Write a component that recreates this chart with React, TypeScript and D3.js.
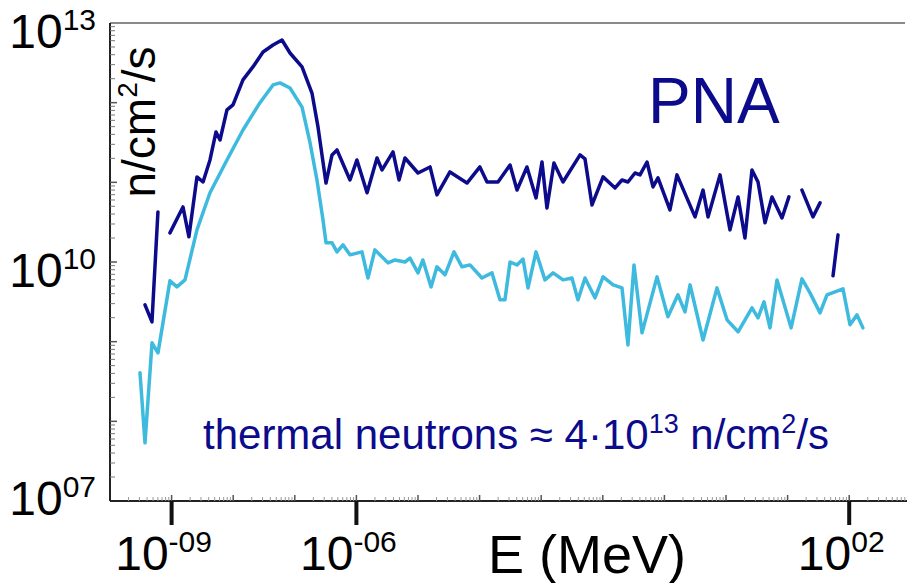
import React from "react";
import * as d3 from "d3";

// energy (MeV) and flux (n/cm2/s); null = gap in the curve
const darkEnergy = [
  3.7e-10, 4.8e-10, 6.0e-10, 7.5e-10,
  9.4e-10, 1.53e-9, 1.91e-9, 2.58e-9, 3.24e-9, 4.2e-9, 5.26e-9, 6.11e-9, 7.92e-9, 9.93e-9,
  1.44e-8, 2.09e-8, 3.05e-8, 4.43e-8, 6.19e-8, 8.36e-8, 1.31e-7, 1.9e-7, 2.38e-7, 3.21e-7,
  4.02e-7, 4.84e-7, 7.87e-7, 1.02e-6, 1.49e-6, 2.16e-6, 2.61e-6, 3.93e-6, 4.92e-6, 6.15e-6,
  1.0e-5, 1.57e-5, 2.03e-5, 3.3e-5, 6.24e-5, 1.01e-4, 1.32e-4, 1.99e-4, 3.12e-4, 4.05e-4,
  5.87e-4, 8.24e-4, 1.03e-3, 1.24e-3, 1.61e-3, 2.26e-3, 4.27e-3, 5.14e-3, 6.68e-3, 1.01e-2,
  1.58e-2, 2.05e-2, 2.56e-2, 3.33e-2, 4.02e-2, 5.22e-2, 6.53e-2, 7.87e-2, 0.123, 0.16,
  0.314, 0.424, 0.511, 0.8, 1.16, 1.57, 2.03, 2.64, 3.31, 4.3, 5.58, 8.11, 10.5,
  13,
  17.1, 25.8, 33.6,
  44,
  54.6, 65.8,
];
const darkFlux = [
  2.9e9, 1.77e9, 4.25e10, null,
  2.32e10, 4.91e10, 2.07e10, 1.17e11, 1.01e11, 1.91e11, 4.29e11, 3.4e11, 8.1e11, 9.4e11,
  1.93e12, 2.81e12, 4.33e12, 5.3e12, 6.12e12, 4.2e12, 2.81e12, 1.32e12, 4.96e11, 9.8e10,
  2.21e11, 2.55e11, 1.07e11, 1.91e11, 7.4e10, 2.02e11, 1.43e11, 2.41e11, 1.07e11, 2.02e11,
  1.31e11, 1.56e11, 6.95e10, 1.35e11, 9.8e10, 1.56e11, 1.01e11, 1.01e11, 1.65e11, 8.0e10,
  1.56e11, 6.37e10, 1.8e11, 4.77e10, 1.75e11, 1.01e11, 2.21e11, 1.97e11, 5.2e10, 1.17e11,
  8.5e10, 1.07e11, 1.01e11, 1.31e11, 1.24e11, 1.8e11, 8.75e10, 1.14e11, 4.5e10, 1.24e11,
  3.68e10, 8.0e10, 3.68e10, 1.24e11, 2.53e10, 6.56e10, 2.0e10, 1.43e11, 1.01e11, 3.1e10, 6.56e10, 3.57e10, 6.56e10,
  null,
  8.0e10, 3.68e10, 5.52e10,
  null,
  6.7e9, 2.19e10,
];

const lightEnergy = [
  3.07e-10, 3.7e-10, 4.81e-10, 6.01e-10, 9.4e-10, 1.22e-9, 1.65e-9, 2.58e-9, 4.2e-9, 7.92e-9,
  1.44e-8, 2.72e-8, 4.43e-8, 5.75e-8, 8.36e-8, 1.31e-7, 1.77e-7, 2.29e-7, 2.87e-7, 3.21e-7,
  4.02e-7, 4.84e-7, 6.05e-7, 7.87e-7, 1.23e-6, 1.54e-6, 2.0e-6, 3.26e-6, 4.24e-6, 6.15e-6,
  7.41e-6, 1.0e-5, 1.2e-5, 1.63e-5, 2.03e-5, 2.74e-5, 3.84e-5, 5.18e-5, 6.98e-5, 1.09e-4,
  1.59e-4, 2.14e-4, 2.58e-4, 3.12e-4, 4.05e-4, 5.07e-4, 6.11e-4, 8.24e-4, 1.15e-3, 1.56e-3,
  2.26e-3, 3.16e-3, 3.95e-3, 5.14e-3, 7.46e-3, 1.01e-2, 1.47e-2, 2.05e-2, 2.56e-2, 3.21e-2,
  4.33e-2, 7.59e-2, 0.114, 0.166, 0.216, 0.261, 0.424, 0.714, 1.04, 1.57,
  2.64, 3.31, 4.14, 5.18, 6.73, 11.4, 17.1, 23.1, 33.6, 43.6,
  58.8, 79.3, 103, 134, 167,
];
const lightFlux = [
  4.06e8, 5.37e7, 9.66e8, 7.24e8, 5.8e9, 4.87e9, 5.96e9, 2.53e10, 7.4e10, 1.91e11,
  4.54e11, 1.0e12, 1.67e12, 1.77e12, 1.53e12, 8.8e11, 3.12e11, 1.07e11, 3.37e10, 1.74e10,
  1.74e10, 1.34e10, 1.64e10, 1.23e10, 1.34e10, 6.3e9, 1.42e10, 9.75e9, 1.06e10, 1.0e10,
  1.12e10, 7.3e9, 1.06e10, 4.87e9, 8.7e9, 6.9e9, 1.34e10, 8.7e9, 9.2e9, 6.3e9,
  7.3e9, 3.35e9, 3.35e9, 1.0e10, 9.2e9, 1.09e10, 4.73e9, 1.34e10, 5.96e9, 7.3e9,
  5.96e9, 6.3e9, 3.35e9, 6.3e9, 3.55e9, 6.5e9, 5.16e9, 4.73e9, 9.1e8, 9.2e9,
  1.29e9, 6.5e9, 2.05e9, 3.87e9, 2.37e9, 5.16e9, 1.05e9, 4.73e9, 1.88e9, 1.33e9,
  2.66e9, 1.99e9, 3.16e9, 1.49e9, 5.96e9, 1.49e9, 6.14e9, 4.1e9, 2.3e9, 3.87e9,
  4.22e9, 4.6e9, 1.63e9, 2.17e9, 1.49e9,
];

const xTickValues = [1e-9, 1e-6, 1e2];
const xTickExp = ["-09", "-06", "02"];
const yTickValues = [1e13, 1e10, 1e7];
const yTickExp = ["13", "10", "07"];

const W = 907;
const H = 583;
const left = 110;
const top = 23;
const bottom = 501;

const font = "'Liberation Sans', Arial, sans-serif";
const navy = "#0b0b8c";
const cyan = "#3dbade";

export default function App() {
  const x = d3.scaleLog().domain([1e-10, 1e3]).range([left, left + 13 * 61.6]);
  const y = d3.scaleLog().domain([1e7, 1e13]).range([bottom, top]);

  const line = d3
    .line<[number, number | null]>()
    .defined((d) => d[1] != null)
    .x((d) => x(d[0]))
    .y((d) => y(d[1] as number));

  const dark = darkEnergy.map((e, i) => [e, darkFlux[i]] as [number, number | null]);
  const light = lightEnergy.map((e, i) => [e, lightFlux[i]] as [number, number | null]);

  const yMinor: number[] = [];
  for (let p = 7; p < 13; p++) for (let k = 2; k <= 9; k++) yMinor.push(k * 10 ** p);
  const xMinor: number[] = [];
  for (let p = -10; p < 3; p++) for (let k = 2; k <= 9; k++) xMinor.push(k * 10 ** p);
  const xDecades = d3.range(-9, 3).map((p) => 10 ** p);
  const yDecades = d3.range(8, 13).map((p) => 10 ** p);

  return (
    <svg width={W} height={H} style={{ position: "absolute", left: 0, top: 0, background: "#fff" }}>
      {/* frame */}
      <line x1={left} x2={905} y1={top} y2={top} stroke="#8a8a8a" strokeWidth={2} />
      <line x1={left} x2={left} y1={top} y2={bottom} stroke="#222" strokeWidth={2} />
      <line x1={left} x2={W} y1={bottom} y2={bottom} stroke="#222" strokeWidth={2} />

      {/* y minor ticks */}
      {yMinor.map((v, i) => (
        <line key={"ym" + i} x1={left} x2={left + 5} y1={y(v)} y2={y(v)} stroke="#777" strokeWidth={1} />
      ))}
      {yDecades.map((v, i) => (
        <line key={"yd" + i} x1={left} x2={left + 7} y1={y(v)} y2={y(v)} stroke="#555" strokeWidth={1.5} />
      ))}

      {/* x minor ticks */}
      {xMinor.map((v, i) => (
        <line key={"xm" + i} x1={x(v)} x2={x(v)} y1={bottom} y2={bottom - 4} stroke="#999" strokeWidth={1} />
      ))}
      {xDecades.map((v, i) => (
        <line key={"xd" + i} x1={x(v)} x2={x(v)} y1={bottom} y2={bottom - 6} stroke="#555" strokeWidth={1.5} />
      ))}
      {xTickValues.map((v, i) => (
        <line key={"xt" + i} x1={x(v)} x2={x(v)} y1={bottom} y2={bottom + 24} stroke="#111" strokeWidth={4} />
      ))}

      {/* tick labels */}
      {xTickValues.map((v, i) => (
        <text key={"xl" + i} x={x(v) - 8} y={570} textAnchor="middle" fontFamily={font} fontSize={48} fill="#000">
          10
          <tspan fontSize={30} dy={-18}>{xTickExp[i]}</tspan>
        </text>
      ))}
      {yTickValues.map((v, i) => (
        <text
          key={"yl" + i}
          x={96}
          y={y(v) + (i === yTickValues.length - 1 ? 14 : 25)}
          textAnchor="end"
          fontFamily={font}
          fontSize={48}
          fill="#000"
        >
          10
          <tspan fontSize={30} dy={-18}>{yTickExp[i]}</tspan>
        </text>
      ))}

      {/* axis titles */}
      <text x={488} y={573} fontFamily={font} fontSize={54} fill="#000">E (MeV)</text>
      <text transform="translate(155,122) rotate(-90)" textAnchor="middle" fontFamily={font} fontSize={46} fill="#000">
        n/cm<tspan fontSize={28} dy={-18}>2</tspan>
        <tspan dy={18}>/s</tspan>
      </text>

      {/* series */}
      <path d={line(light) || ""} fill="none" stroke={cyan} strokeWidth={3.5} strokeLinejoin="round" strokeLinecap="round" />
      <path d={line(dark) || ""} fill="none" stroke={navy} strokeWidth={3.5} strokeLinejoin="round" strokeLinecap="round" />

      {/* annotations */}
      <text x={648} y={123} fontFamily={font} fontSize={64} fill={navy}>PNA</text>
      <text x={203} y={449} fontFamily={font} fontSize={42} fill={navy}>
        thermal neutrons ≈ 4·10<tspan fontSize={27} dy={-16}>13</tspan>
        <tspan dy={16}> n/cm</tspan>
        <tspan fontSize={27} dy={-16}>2</tspan>
        <tspan dy={16}>/s</tspan>
      </text>
    </svg>
  );
}
